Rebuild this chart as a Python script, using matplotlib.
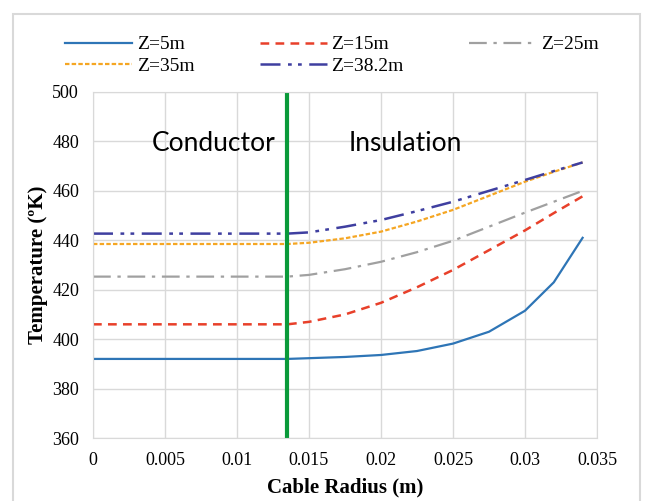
import matplotlib
matplotlib.use("Agg")
import matplotlib.pyplot as plt
from matplotlib.patches import Rectangle

# radius (m)
radius = [0, 0.005, 0.01, 0.0135, 0.015, 0.0175, 0.02, 0.0225, 0.025, 0.0275, 0.03, 0.032, 0.034]

# temperatures (K) for each depth
t_z5 = [392, 392, 392, 392, 392.3, 392.8, 393.6, 395.2, 398.2, 403, 411.5, 423, 441]
t_z15 = [406, 406, 406, 406, 407, 410, 414.7, 421, 428, 436, 444, 451, 457.8]
t_z25 = [425.3, 425.3, 425.3, 425.3, 426, 428.3, 431.3, 435.2, 439.8, 445.5, 451.2, 455.6, 460]
t_z35 = [438.5, 438.5, 438.5, 438.5, 439, 440.8, 443.5, 447.6, 452.3, 458, 463.7, 467.7, 471.5]
t_z382 = [442.7, 442.7, 442.7, 442.7, 443.2, 445.5, 448.2, 451.8, 455.6, 460, 464.4, 468, 471.5]

boundary = 0.0135
xticks = [0, 0.005, 0.01, 0.015, 0.02, 0.025, 0.03, 0.035]
yticks = [360, 380, 400, 420, 440, 460, 480, 500]

serif = ['Liberation Serif', 'DejaVu Serif']

fig = plt.figure(figsize=(6.48, 5.01), dpi=100)
ax = fig.add_axes([0.1435, 0.1257, 0.7778, 0.6907])

# frame around the whole chart
fig.patches.append(Rectangle((0.02, -0.01), 0.968, 0.982, transform=fig.transFigure,
                             fill=False, edgecolor='#d9d9d9', linewidth=1.5))

l1, = ax.plot(radius, t_z5, color='#2e75b6', lw=1.6, label='Z=5m')
l2, = ax.plot(radius, t_z15, color='#e8402a', lw=1.8, dashes=(3.5, 2.5), label='Z=15m')
l3, = ax.plot(radius, t_z25, color='#a0a0a0', lw=1.6, dashes=(8, 3, 1.5, 3), label='Z=25m')
l4, = ax.plot(radius, t_z35, color='#f5a623', lw=1.6, dashes=(2, 1), label='Z=35m')
l5, = ax.plot(radius, t_z382, color='#3f3fa0', lw=1.8, dashes=(8, 3, 1.5, 2.5, 1.5, 3), label='Z=38.2m')

ax.axvline(boundary, color='#0a9a3a', lw=3)

ax.text(0.0084, 479.0, 'Conductor', fontsize=19, family='Lato', ha='center', va='center')
ax.text(0.02167, 479.0, 'Insulation', fontsize=19, family='Lato', ha='center', va='center')

ax.set_xlim(0, 0.035)
ax.set_ylim(360, 500)
ax.set_xticks(xticks)
ax.set_xticklabels([f'{v:g}' for v in xticks], family=serif, fontsize=13)
ax.set_yticks(yticks)
ax.set_yticklabels([str(v) for v in yticks], family=serif, fontsize=13)
ax.tick_params(length=0, pad=10)
ax.grid(True, color='#d9d9d9', lw=1)
ax.set_axisbelow(True)
for s in ax.spines.values():
    s.set_color('#d9d9d9')

ax.set_xlabel('Cable Radius (m)', family=serif, fontsize=15, fontweight='bold', labelpad=6)
ax.set_ylabel('Temperature (ºK)', family=serif, fontsize=15, fontweight='bold', labelpad=3)

fig.legend([l1, l4, l2, l5, l3], ['Z=5m', 'Z=35m', 'Z=15m', 'Z=38.2m', 'Z=25m'],
           ncol=3, loc='upper left', bbox_to_anchor=(0.085, 0.948), frameon=False,
           prop={'family': serif, 'size': 14}, handlelength=3.45, handletextpad=0.25,
           columnspacing=3.35, labelspacing=0.2, borderpad=0)

fig.savefig('out.png', dpi=100)
